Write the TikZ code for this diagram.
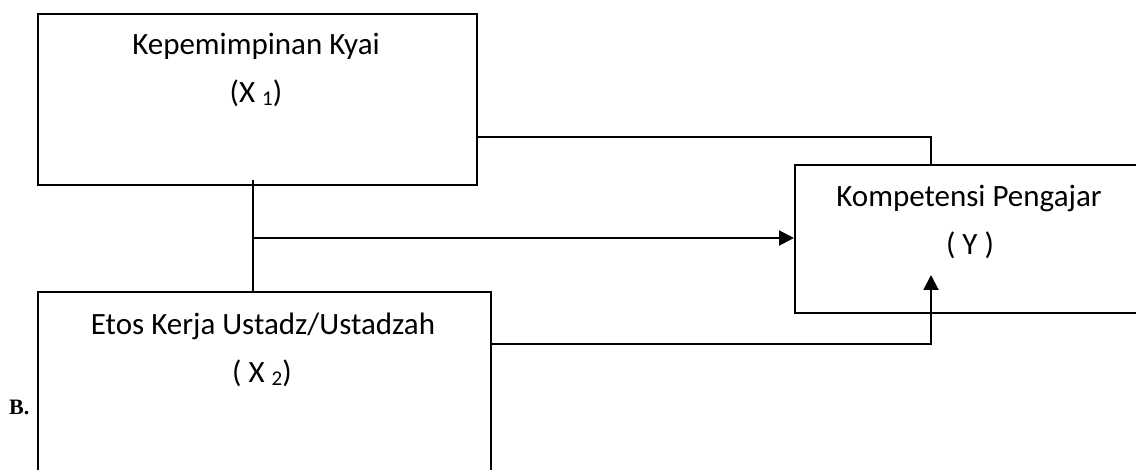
\documentclass[tikz,border=0pt]{standalone}
\usepackage{fontspec}
\setmainfont{Carlito}
\newfontfamily\serifbold{Liberation Serif}
\usetikzlibrary{arrows.meta}
\begin{document}
\begin{tikzpicture}[x=1pt,y=-1pt,
  box/.style={draw,line width=2pt,rectangle,inner sep=0pt,anchor=north west},
  lbl/.style={anchor=base,inner sep=0pt,font=\fontsize{31}{36}\selectfont},
  conn/.style={line width=2pt},
  arr/.style={line width=2pt,-{Triangle[length=15pt,width=15pt]}}]
\useasboundingbox (0,0) rectangle (1136,470);
\clip (0,0) rectangle (1136,470);
\node[box,minimum width=439pt,minimum height=171pt] (X1) at (37,13) {};
\node[box,minimum width=350pt,minimum height=148pt] (Y) at (794,164) {};
\node[box,minimum width=453pt,minimum height=190pt] (X2) at (37,291) {};
\newcommand{\subsc}[1]{\raisebox{-0.08em}{\fontsize{21}{21}\selectfont #1}}
\node[lbl] (t1) at (256,55) {Kepemimpinan Kyai};
\node[lbl] (t1b) at (256,103) {(X \subsc{1})};
\node[lbl] (t2) at (969,207) {Kompetensi Pengajar};
\node[lbl] (t2b) at (970,255) {( Y )};
\node[lbl] (t3) at (263,335) {Etos Kerja Ustadz/Ustadzah};
\node[lbl] (t3b) at (262,383) {( X \subsc{2})};
\node[anchor=base west,inner sep=0pt,font=\serifbold\bfseries\fontsize{22}{24}\selectfont] (B) at (9,415) {B.};
\coordinate (j1) at (931,137);
\coordinate (j2) at (931,344);
\coordinate (tipY) at (931,275);
\coordinate (v1) at (253,180);
\coordinate (h1) at (253,238);
\draw[conn] (X1.east |- j1) -- (j1) -- (j1 |- Y.north);
\draw[conn] (v1) -- (v1 |- X2.north);
\draw[arr] (h1) -- (h1 -| Y.west);
\draw[arr] (X2.east |- j2) -| (tipY);
\end{tikzpicture}
\end{document}
